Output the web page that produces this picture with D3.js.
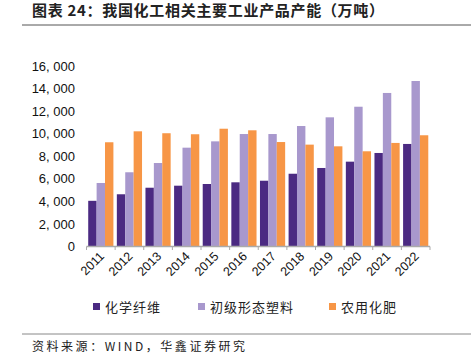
<!DOCTYPE html>
<html><head><meta charset="utf-8">
<script src="https://cdn.jsdelivr.net/npm/d3@7/dist/d3.min.js"></script>
<style>body{margin:0;background:#fff}svg{display:block}</style>
</head><body>
<script>
const years = ["2011","2012","2013","2014","2015","2016","2017","2018","2019","2020","2021","2022"];
const seriesNames = ["化学纤维","初级形态塑料","农用化肥"];
const fiber = [4050,4630,5210,5390,5540,5690,5830,6450,6960,7520,8290,9090];
const plastic = [5630,6580,7400,8760,9320,9970,9970,10680,11450,12390,13610,14670];
const fertilizer = [9240,10210,10040,9950,10440,10300,9260,9030,8880,8440,9180,9860];
const yTicks = [0,2000,4000,6000,8000,10000,12000,14000,16000];
const colors = ["#4b2a82","#a898cd","#f79646"];
const values = [fiber, plastic, fertilizer];

const W = 471, H = 359;
const svg = d3.select("body").append("svg").attr("width", W).attr("height", H);
const cn = "'Noto Sans CJK SC', sans-serif";

svg.append("text").attr("x", 32).attr("y", 16).attr("font-family", cn).attr("font-weight", "bold")
  .attr("font-size", 15).attr("fill", "#222").attr("textLength", 352).attr("lengthAdjust", "spacing")
  .text("图表 24：我国化工相关主要工业产品产能（万吨）");
svg.append("line").attr("x1", 22).attr("x2", 471).attr("y1", 25).attr("y2", 25).attr("stroke", "#555").attr("stroke-width", 1);
svg.append("line").attr("x1", 22).attr("x2", 471).attr("y1", 334).attr("y2", 334).attr("stroke", "#888").attr("stroke-width", 1);
svg.append("text").attr("x", 32).attr("y", 351).attr("font-family", cn)
  .attr("font-size", 12).attr("fill", "#222").attr("textLength", 213).attr("lengthAdjust", "spacing")
  .text("资料来源：WIND，华鑫证券研究");

const x0 = d3.scaleBand().domain(years).range([86.5, 430]).paddingInner(0.12).paddingOuter(0.06);
const x1 = d3.scaleBand().domain(seriesNames).range([0, x0.bandwidth()]);
const y = d3.scaleLinear().domain([0, 16000]).range([246.5, 66]);

const g = svg.append("g");
years.forEach((yr, i) => {
  seriesNames.forEach((s, j) => {
    const v = values[j][i];
    g.append("rect").attr("x", x0(yr) + x1(s)).attr("y", y(v))
      .attr("width", x1.bandwidth()).attr("height", y(0) - y(v)).attr("fill", colors[j]);
  });
});

const yAxis = d3.axisLeft(y).tickValues(yTicks).tickSize(0).tickPadding(0)
  .tickFormat(d => d3.format(",")(d).replace(",", ", "));
const ya = svg.append("g").attr("transform", "translate(75,0)").call(yAxis);
ya.select(".domain").remove();
ya.selectAll("text").attr("font-family", "'Liberation Sans', Arial, sans-serif").attr("font-size", 13).attr("fill", "#111");

svg.append("line").attr("x1", 86.5).attr("x2", 430).attr("y1", 246.5).attr("y2", 246.5).attr("stroke", "#aaa").attr("stroke-width", 1.5);
const ticksX = [86.5, ...years.map(yr => x0(yr) + x0.bandwidth() + x0.step()*x0.paddingInner()/2)];
ticksX.forEach(t => svg.append("line").attr("x1", t).attr("x2", t).attr("y1", 246.5).attr("y2", 250).attr("stroke", "#aaa"));

years.forEach(yr => {
  const cx = x0(yr) + x0.bandwidth()/2 + 4;
  svg.append("text").attr("transform", `translate(${cx},257) rotate(-45)`).attr("text-anchor", "end")
    .attr("font-family", "'Liberation Sans', Arial, sans-serif").attr("font-size", 12.5).attr("fill", "#111").text(yr);
});

const legendX = [93, 198, 329];
seriesNames.forEach((s, j) => {
  svg.append("rect").attr("x", legendX[j]).attr("y", 303).attr("width", 7).attr("height", 7).attr("fill", colors[j]);
  svg.append("text").attr("x", legendX[j] + 12).attr("y", 311.5).attr("font-family", cn).attr("font-size", 13)
    .attr("letter-spacing", 1).attr("fill", "#222").text(s);
});
</script>
</body></html>
